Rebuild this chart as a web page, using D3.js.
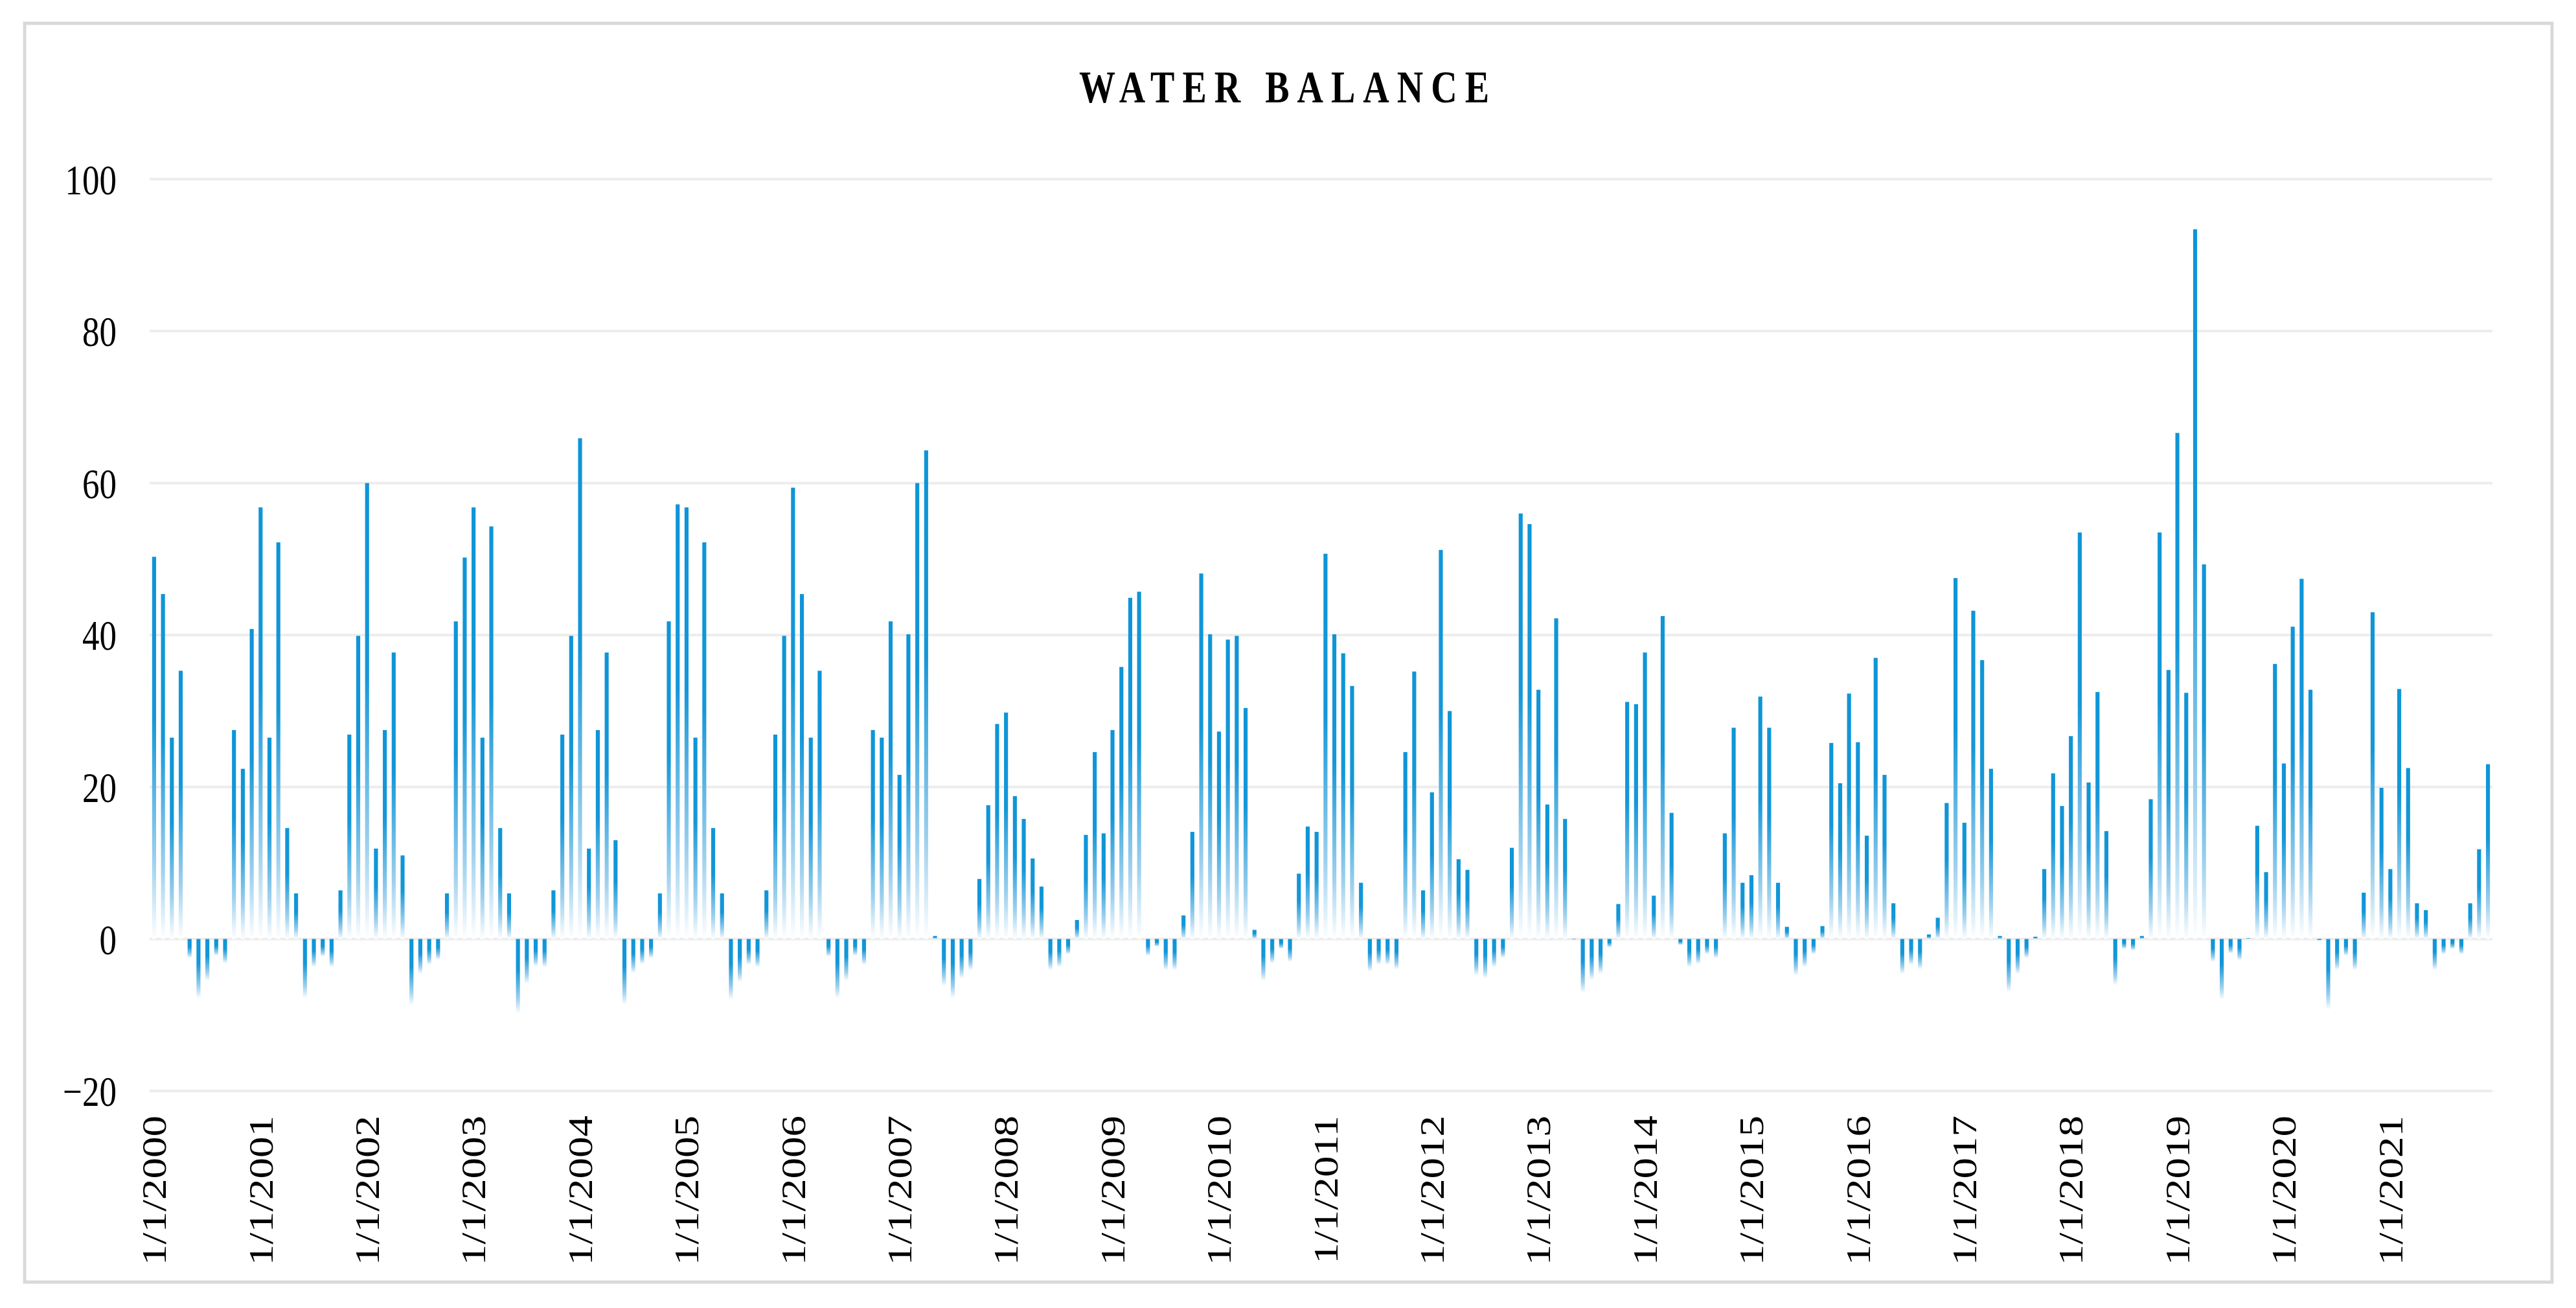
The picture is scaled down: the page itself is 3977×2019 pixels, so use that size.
<!DOCTYPE html>
<html>
<head>
<meta charset="utf-8">
<script src="https://cdnjs.cloudflare.com/ajax/libs/d3/7.8.5/d3.min.js"></script>
<style>
    body { margin: 0; background: #fff; }
    svg text { font-family: "Liberation Serif", "Times New Roman", serif; fill: #000; }
</style>
</head>
<body>
<svg id="chart" width="3977" height="2019"></svg>
<script>
var chartTitle = "WATER BALANCE";
var startYear = 2000;
var yearLabels = ["1/1/2000", "1/1/2001", "1/1/2002", "1/1/2003", "1/1/2004", "1/1/2005",
    "1/1/2006", "1/1/2007", "1/1/2008", "1/1/2009", "1/1/2010", "1/1/2011", "1/1/2012",
    "1/1/2013", "1/1/2014", "1/1/2015", "1/1/2016", "1/1/2017", "1/1/2018", "1/1/2019",
    "1/1/2020", "1/1/2021"];
var yTicks = [-20, 0, 20, 40, 60, 80, 100];

// monthly water balance, one row per year (Jan..Dec)
var waterBalance = [
    50.3, 45.4, 26.5, 35.3, -2.5, -7.8, -5.5, -2.2, -3.2, 27.5, 22.4, 40.8,
    56.8, 26.5, 52.2, 14.6, 6.0, -7.8, -3.7, -2.3, -3.7, 6.4, 26.9, 39.9,
    60.0, 11.9, 27.5, 37.7, 11.0, -8.7, -4.6, -3.4, -2.7, 6.0, 41.8, 50.2,
    56.8, 26.5, 54.3, 14.6, 6.0, -9.8, -5.9, -3.6, -3.7, 6.4, 26.9, 39.9,
    65.9, 11.9, 27.5, 37.7, 13.0, -8.7, -4.5, -3.3, -2.5, 6.0, 41.8, 57.2,
    56.8, 26.5, 52.2, 14.6, 6.0, -8.0, -5.7, -3.4, -3.7, 6.4, 26.9, 39.9,
    59.4, 45.4, 26.5, 35.3, -2.3, -7.8, -5.5, -2.2, -3.4, 27.5, 26.5, 41.8,
    21.6, 40.1, 60.0, 64.3, 0.4, -6.2, -7.8, -5.2, -4.1, 7.9, 17.6, 28.3,
    29.8, 18.8, 15.8, 10.6, 6.9, -4.1, -3.7, -2.0, 2.5, 13.7, 24.6, 13.9,
    27.5, 35.8, 44.9, 45.7, -2.2, -1.0, -4.1, -4.1, 3.1, 14.1, 48.1, 40.1,
    27.3, 39.4, 39.9, 30.4, 1.2, -5.5, -3.2, -1.3, -3.0, 8.6, 14.8, 14.1,
    50.7, 40.1, 37.6, 33.3, 7.4, -4.3, -3.4, -3.4, -4.0, 24.6, 35.2, 6.4,
    19.3, 51.2, 30.0, 10.5, 9.1, -4.8, -5.2, -3.7, -2.5, 12.0, 56.0, 54.6,
    32.8, 17.7, 42.2, 15.8, -0.1, -7.1, -5.4, -4.6, -1.1, 4.6, 31.2, 30.9,
    37.7, 5.7, 42.5, 16.6, -0.8, -3.7, -3.3, -2.0, -2.5, 13.9, 27.8, 7.4,
    8.4, 31.9, 27.8, 7.4, 1.6, -4.8, -3.7, -2.0, 1.7, 25.8, 20.5, 32.3,
    25.9, 13.6, 37.0, 21.6, 4.7, -4.6, -3.4, -4.0, 0.6, 2.8, 17.9, 47.5,
    15.3, 43.2, 36.7, 22.4, 0.4, -7.0, -4.6, -2.5, 0.3, 9.2, 21.8, 17.5,
    26.7, 53.5, 20.6, 32.5, 14.2, -6.1, -1.3, -1.5, 0.4, 18.4, 53.5, 35.4,
    66.6, 32.4, 93.4, 49.3, -3.0, -8.0, -1.9, -2.8, 0.1, 14.9, 8.8, 36.2,
    23.1, 41.1, 47.4, 32.8, -0.2, -9.3, -4.1, -2.2, -4.1, 6.1, 43.0, 19.9,
    9.2, 32.9, 22.5, 4.7, 3.8, -4.1, -2.0, -1.3, -2.0, 4.7, 11.8, 23.0
];

var W = 3977, H = 2019;
var plot = { left: 231, right: 3848, top: 276.5, bottom: 1684 };
var stretch = 1.25;   // the reference is drawn a bit taller than wide

var svg = d3.select("#chart");

var months = waterBalance.map(function(v, i) {
    var y = startYear + Math.floor(i / 12), m = i % 12 + 1;
    return { key: m + "/1/" + y, month: m, value: v };
});

var x = d3.scaleBand()
    .domain(months.map(function(d) { return d.key; }))
    .range([plot.left, plot.right])
    .paddingInner(0.55)
    .paddingOuter(0.28);

var y = d3.scaleLinear()
    .domain([-20, 100])
    .range([plot.bottom, plot.top]);

var grad = svg.append("defs").append("linearGradient")
    .attr("id", "barFill")
    .attr("x1", 0).attr("y1", 0).attr("x2", 0).attr("y2", 1);
grad.append("stop").attr("offset", "0").attr("stop-color", "#0e95d7");
grad.append("stop").attr("offset", "0.42").attr("stop-color", "#1497d8");
grad.append("stop").attr("offset", "0.8").attr("stop-color", "#9fd1ee");
grad.append("stop").attr("offset", "1").attr("stop-color", "#ffffff");

// outer frame
svg.append("rect")
    .attr("x", 38).attr("y", 36)
    .attr("width", 3902).attr("height", 1943)
    .style("fill", "#fff")
    .style("stroke", "#d9d9d9")
    .style("stroke-width", 5);

svg.append("text")
    .attr("transform", "translate(" + (W / 2) + ",158) scale(1," + stretch + ")")
    .attr("text-anchor", "middle")
    .style("font-size", "56px")
    .style("font-weight", "bold")
    .style("letter-spacing", "12px")
    .text(chartTitle);

// gridlines
svg.append("g")
    .selectAll("line")
    .data(yTicks)
    .enter().append("line")
    .attr("x1", plot.left).attr("x2", plot.right)
    .attr("y1", function(d) { return y(d); })
    .attr("y2", function(d) { return y(d); })
    .style("stroke", "#ededed")
    .style("stroke-width", 4);

var yAxis = svg.append("g")
    .attr("transform", "translate(180,0)")
    .call(d3.axisLeft(y).tickValues(yTicks).tickSize(0).tickPadding(0));
yAxis.select(".domain").remove();
yAxis.selectAll(".tick").attr("transform", null);
yAxis.selectAll("text")
    .attr("x", null)
    .attr("transform", function(d) { return "translate(0," + y(d) + ") scale(1," + stretch + ")"; })
    .attr("y", 0)
    .attr("dy", "0.35em")
    .style("font-size", "53px")
    .style("font-family", "'Liberation Serif', serif");

svg.append("g")
    .selectAll("rect")
    .data(months)
    .enter().append("rect")
    .attr("x", function(d) { return x(d.key); })
    .attr("width", x.bandwidth())
    .attr("y", function(d) { return y(Math.max(0, d.value)); })
    .attr("height", function(d) { return Math.abs(y(d.value) - y(0)); })
    .style("fill", "url(#barFill)");

var janKeys = months.filter(function(d) { return d.month == 1; }).map(function(d) { return d.key; });
var xAxis = svg.append("g")
    .call(d3.axisBottom(x).tickValues(janKeys).tickSize(0).tickFormat(function(d, i) { return yearLabels[i]; }));
xAxis.select(".domain").remove();
xAxis.selectAll(".tick").attr("transform", null);
xAxis.selectAll("text")
    .attr("y", 0).attr("dy", "0.35em")
    .attr("text-anchor", "end")
    .attr("transform", function(d) {
        return "translate(" + (x(d) + x.bandwidth() / 2) + ",1722) scale(1," + stretch + ") rotate(-90)";
    })
    .style("font-size", "52px")
    .style("font-family", "'Liberation Serif', serif");
</script>
</body>
</html>
